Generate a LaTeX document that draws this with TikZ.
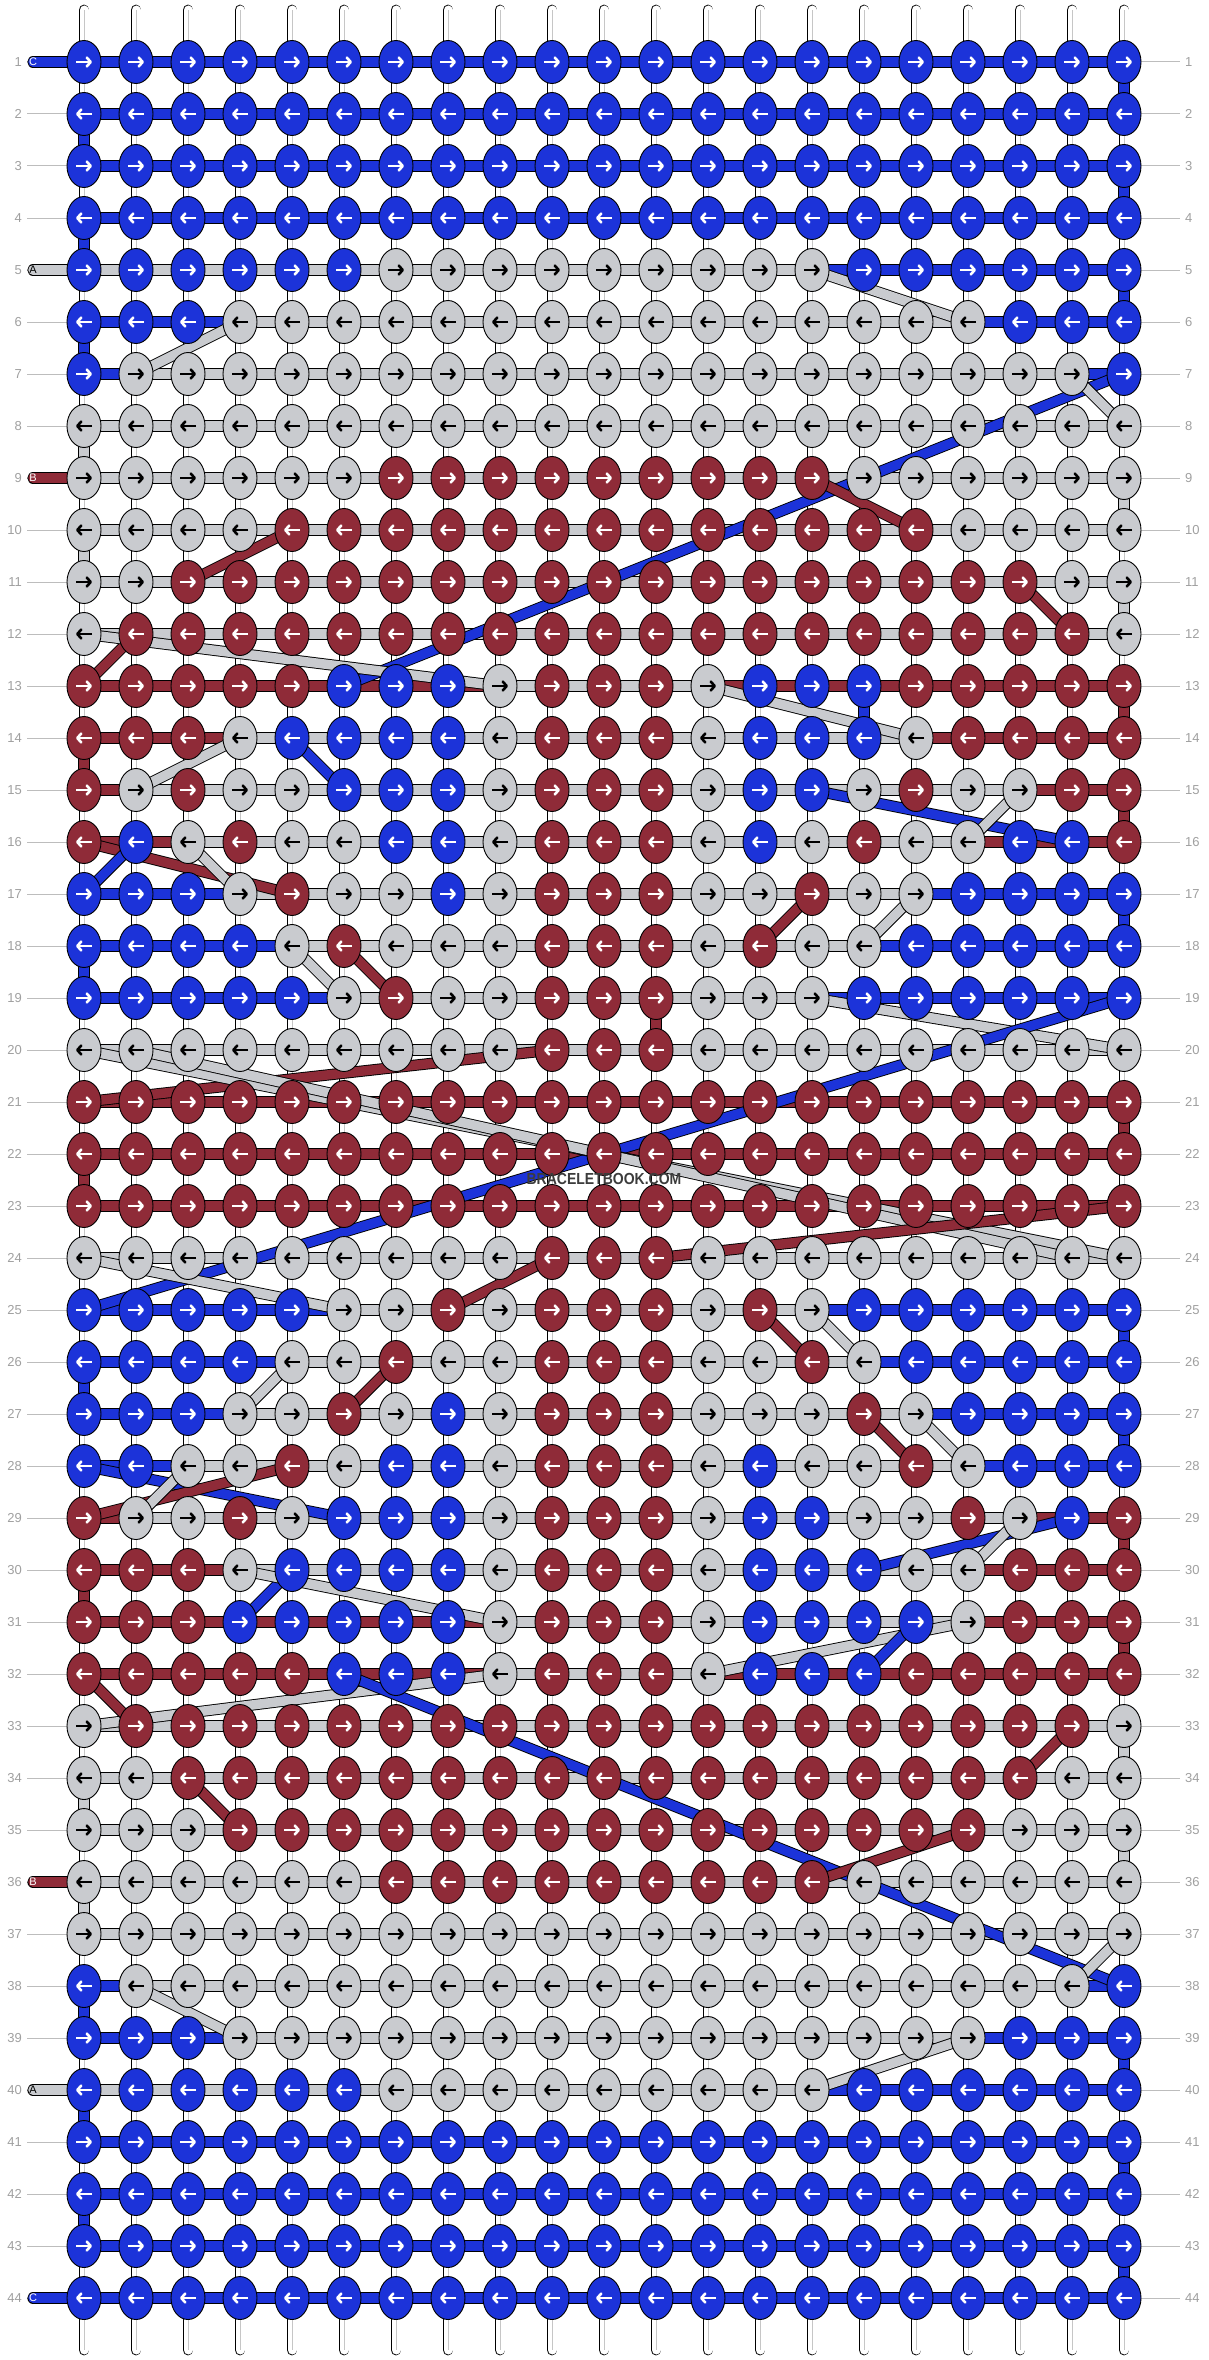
\documentclass[tikz,border=0pt]{standalone}
\usepackage{fontspec}
\setmainfont{Liberation Sans}
\usepackage{xstring}
\usetikzlibrary{shapes.geometric, arrows.meta}

\definecolor{strC}{HTML}{1C33D9}
\definecolor{strA}{HTML}{C9CBCF}
\definecolor{strB}{HTML}{8F2B38}
\definecolor{numgray}{HTML}{A0A0A0}
\definecolor{wmgray}{HTML}{3C3C3C}
\colorlet{arrC}{white}
\colorlet{arrA}{black}
\colorlet{arrB}{white}
\colorlet{tagC}{white}
\colorlet{tagA}{black}
\colorlet{tagB}{white}

\pgfdeclarelayer{warps}
\pgfdeclarelayer{strands}
\pgfsetlayers{warps,strands,main}

\tikzset{
  knot/.style={ellipse, draw=black, line width=0.9pt, fill=str#1,
    minimum width=34pt, minimum height=43pt, inner sep=0pt},
  knotarrow/.style={draw=arr#1, line width=2.6pt,
    -{Straight Barb[round, length=4pt, width=9pt]}},
  strand/.style={draw=black, line width=0.9pt, double=str#1, double distance=9.5pt},
  warp/.style={draw=black, line width=0.9pt, double=white, double distance=9pt, line cap=round},
  warpcore/.style={draw=numgray!60, line width=1pt},
  rowno/.style={text=numgray, font=\fontsize{13}{13}\selectfont, inner sep=0pt},
  rowline/.style={draw=numgray!70, line width=1pt},
  tagletter/.style={text=tag#1, font=\fontsize{11}{11}\selectfont, inner sep=0pt},
}

\begin{document}
\begin{tikzpicture}[x=1pt, y=-1pt]
  \useasboundingbox (0,0) rectangle (1208,2360);
  \begin{pgfonlayer}{warps}
    \fill[white] (0,0) rectangle (1208,2360);
  \end{pgfonlayer}

  % warp threads
  \foreach \x in {1,...,21}{
    \coordinate (top-\x) at ({84+52*(\x-1)}, 10);
    \coordinate (bot-\x) at ({84+52*(\x-1)}, 2350);
    \begin{pgfonlayer}{warps}
      \draw[warp] (top-\x) -- (bot-\x);
      \draw[warpcore] (top-\x) -- (bot-\x);
    \end{pgfonlayer}
  }

  % rows: knot colours / colours of the strings between the knots
  \foreach \row/\knots/\bars in {
    1/CCCCC.CCCCC.CCCCC.CCCCC.C/CCCCC.CCCCC.CCCCC.CCCCC,
    2/CCCCC.CCCCC.CCCCC.CCCCC.C/CCCCC.CCCCC.CCCCC.CCCCC,
    3/CCCCC.CCCCC.CCCCC.CCCCC.C/CCCCC.CCCCC.CCCCC.CCCCC,
    4/CCCCC.CCCCC.CCCCC.CCCCC.C/CCCCC.CCCCC.CCCCC.CCCCC,
    5/CCCCC.C.AAAAA.AAAA.CCCCC.C/AAAAA.AAAAA.AAAA.CCCCC.C,
    6/CCC.AAAAA.AAAAA.AAAAA.CCC/CCC.AAAAA.AAAAA.AAAA.CCC,
    7/C.AAAAA.AAAAA.AAAAA.AAAA.C/C.AAAAA.AAAAA.AAAAA.AAA.C,
    8/AAAAA.AAAAA.AAAAA.AAAAA.A/AAAAA.AAAAA.AAAAA.AAAAA,
    9/AAAAA.A.BBBBB.BBBB.AAAAA.A/AAAAA.AAAAA.AAAAA.AAAAA,
    10/AAAA.BBBBB.BBBBB.BBB.AAAA/AAAAA.AAAAA.AAAAA.AAAAA,
    11/AA.BBBBB.BBBBB.BBBBB.BB.AA/AAAAA.AAAAA.AAAAA.AAAAA,
    12/A.BBBBB.BBBBB.BBBBB.BBBB.A/AAAAA.AAAAA.AAAAA.AAAAA,
    13/BBBBB.CCC.A.BBB.A.CCC.BBBBB/BBBBB.BBB.AAAA.BBBBB.BBB,
    14/BBB.A.CCCC.A.BBB.A.CCC.A.BBBB/BBB.AAAAA.AAAAA.AAA.BBBB,
    15/BABAA.CCCAB.BBACC.ABAAB.B/B.AAAAA.AAAAA.AAAAA.AA.BB,
    16/BCABA.ACCAB.BBACA.BAACC.B/BB.AAAAA.AAAAA.AAAAA.BBB,
    17/CCCAB.AACAB.BBAAB.AACCC.C/CCC.AAAAA.AAAAA.AAA.CCCC,
    18/CCCCA.BAAAB.BBABA.ACCCC.C/CCCC.AAAAA.AAAAA.A.CCCCC,
    19/CCCCC.ABAAB.BBAAA.CCCCC.C/CCCCC.AAAAA.AAAA.CCCCC.C,
    20/AAAAA.AAAA.BBB.AAAAA.AAAA/AAAAA.AAAAA.AAAAA.AAAAA,
    21/BBBBB.BBBBB.BBBBB.BBBBB.B/BBBBB.BBBBB.BBBBB.BBBBB,
    22/BBBBB.BBBBB.BBBBB.BBBBB.B/BBBBB.BBBBB.BBBBB.BBBBB,
    23/BBBBB.BBBBB.BBBBB.BBBBB.B/BBBBB.BBBBB.BBBBB.BBBBB,
    24/AAAAA.AAAA.BBB.AAAAA.AAAA/AAAAA.AAAAA.AAAAA.AAAAA,
    25/CCCCC.AABAB.BBABA.CCCCC.C/CCCCC.AAAAA.AAAA.CCCCC.C,
    26/CCCCA.ABAAB.BBAAB.ACCCC.C/CCCC.AAAAA.AAAAA.A.CCCCC,
    27/CCCAA.BACAB.BBAAA.BACCC.C/CCC.AAAAA.AAAAA.AAA.CCCC,
    28/CCAAB.ACCAB.BBACA.ABACC.C/CC.AAAAA.AAAAA.AAAAA.CCC,
    29/BAABA.CCCAB.BBACC.AABAC.B/B.AAAAA.AAAAA.AAAAA.AA.BB,
    30/BBBAC.CCCAB.BBACC.CAABB.B/BBB.AAAAA.AAAAA.AAAA.BBB,
    31/BBBCC.CCCAB.BBACC.CCABB.B/BBBBB.BBB.AAAAA.AAAA.BBB,
    32/BBBBB.CCC.A.BBB.A.CCC.BBBBB/BBBBB.BBB.AAAA.BBBBB.BBB,
    33/A.BBBBB.BBBBB.BBBBB.BBBB.A/AAAAA.AAAAA.AAAAA.AAAAA,
    34/AA.BBBBB.BBBBB.BBBBB.BB.AA/AAAAA.AAAAA.AAAAA.AAAAA,
    35/AAA.BBBBB.BBBBB.BBBBB.AAA/AAAAA.AAAAA.AAAAA.AAAAA,
    36/AAAAA.A.BBBBB.BBBB.AAAAA.A/AAAAA.AAAAA.AAAAA.AAAAA,
    37/AAAAA.AAAAA.AAAAA.AAAAA.A/AAAAA.AAAAA.AAAAA.AAAAA,
    38/C.AAAAA.AAAAA.AAAAA.AAAA.C/C.AAAAA.AAAAA.AAAAA.AAA.C,
    39/CCC.AAAAA.AAAAA.AAAAA.CCC/CCC.AAAAA.AAAAA.AAAA.CCC,
    40/CCCCC.C.AAAAA.AAAA.CCCCC.C/AAAAA.AAAAA.AAAA.CCCCC.C,
    41/CCCCC.CCCCC.CCCCC.CCCCC.C/CCCCC.CCCCC.CCCCC.CCCCC,
    42/CCCCC.CCCCC.CCCCC.CCCCC.C/CCCCC.CCCCC.CCCCC.CCCCC,
    43/CCCCC.CCCCC.CCCCC.CCCCC.C/CCCCC.CCCCC.CCCCC.CCCCC,
    44/CCCCC.CCCCC.CCCCC.CCCCC.C/CCCCC.CCCCC.CCCCC.CCCCC}{
    \StrDel{\knots}{.}[\kn]
    \StrDel{\bars}{.}[\bn]
    \foreach \x in {1,...,21}{
      \StrChar{\kn}{\x}[\kc]
      \node[knot=\kc] (k-\row-\x) at ({84+52*(\x-1)}, {62+52*(\row-1)}) {};
      \ifodd\row\relax
        \draw[knotarrow=\kc] ([xshift=-8pt]k-\row-\x.center) -- ([xshift=8pt]k-\row-\x.center);
      \else
        \draw[knotarrow=\kc] ([xshift=8pt]k-\row-\x.center) -- ([xshift=-8pt]k-\row-\x.center);
      \fi
    }
    \begin{pgfonlayer}{strands}
      \foreach \x [evaluate=\x as \nx using int(\x+1)] in {1,...,20}{
        \StrChar{\bn}{\x}[\bc]
        \draw[strand=\bc] (k-\row-\x.center) -- (k-\row-\nx.center);
      }
    \end{pgfonlayer}
    % row numbers
    \node[rowno, anchor=east] (ln-\row) at (22, {62+52*(\row-1)}) {\row};
    \node[rowno, anchor=west] (rn-\row) at (1185, {62+52*(\row-1)}) {\row};
    \begin{pgfonlayer}{warps}
      \draw[rowline] ([xshift=5pt]ln-\row.east) -- (k-\row-1.west);
      \draw[rowline] (k-\row-21.east) -- ([xshift=-5pt]rn-\row.west);
    \end{pgfonlayer}
  }

  \begin{pgfonlayer}{strands}
    % turns of a string down to the next row
    \foreach \row/\x/\sc [evaluate=\row as \nr using int(\row+1)] in {
      1/21/C, 2/1/C, 3/21/C, 4/1/C, 5/21/C, 6/1/C, 8/1/A, 9/21/A, 10/1/A, 11/21/A,
      13/21/B, 13/16/C, 14/1/B, 15/21/B, 17/21/C, 18/1/C, 19/12/B, 21/21/B, 22/1/B,
      25/21/C, 26/1/C, 27/21/C, 29/21/B, 30/1/B, 31/21/B, 33/21/A, 34/1/A, 35/21/A,
      36/1/A, 38/1/C, 39/21/C, 40/1/C, 41/21/C, 42/1/C, 43/21/C}
      \draw[strand=\sc] (k-\row-\x.center) -- (k-\nr-\x.center);
    % strings moving across rows
    \foreach \ra/\xa/\rb/\xb/\sc in {
      5/15/6/18/A, 6/4/7/2/A, 7/21/13/6/C, 7/20/8/21/A, 9/15/10/17/B, 10/5/11/3/B,
      11/19/12/20/B, 12/2/13/1/B, 12/1/13/9/A, 13/13/14/17/A, 14/4/15/2/A, 14/5/15/6/C,
      15/15/16/20/C, 15/19/16/18/A, 16/1/17/5/B, 16/2/17/1/C, 16/3/17/4/A, 17/17/18/16/A,
      17/15/18/14/B, 18/5/19/6/A, 18/6/19/7/B, 19/15/20/21/A, 19/21/25/1/C, 20/10/21/1/B,
      20/1/24/21/A, 20/2/24/20/A, 23/21/24/12/B, 24/10/25/8/B, 24/1/25/6/A, 25/14/26/15/B,
      25/15/26/16/A, 26/5/27/4/A, 26/7/27/6/B, 27/16/28/17/B, 27/17/28/18/A, 28/1/29/6/C,
      28/5/29/1/B, 28/3/29/2/A, 29/20/30/16/C, 29/19/30/18/A, 30/5/31/4/C, 30/4/31/9/A,
      31/18/32/13/A, 31/17/32/16/C, 32/9/33/1/A, 32/6/38/21/C, 32/1/33/2/B, 33/20/34/19/B,
      34/3/35/4/B, 35/18/36/15/B, 37/21/38/20/A, 38/2/39/4/A, 39/18/40/15/A}
      \draw[strand=\sc] (k-\ra-\xa.center) -- (k-\rb-\xb.center);
  \end{pgfonlayer}

  % string ends
  \foreach \row/\sc in {1/C, 5/A, 9/B, 36/B, 40/A, 44/C}{
    \coordinate (tag-\row) at (33, {62+52*(\row-1)});
    \begin{pgfonlayer}{strands}
      \draw[strand=\sc, line cap=round] (tag-\row) -- (k-\row-1.center);
    \end{pgfonlayer}
    \node[tagletter=\sc] (tl-\row) at (tag-\row) {\sc};
  }

  \node[text=wmgray, font=\bfseries\fontsize{16}{16}\selectfont] (wm) at (604,1179)
    {\scalebox{0.875}[1]{BRACELETBOOK.COM}};
\end{tikzpicture}
\end{document}
